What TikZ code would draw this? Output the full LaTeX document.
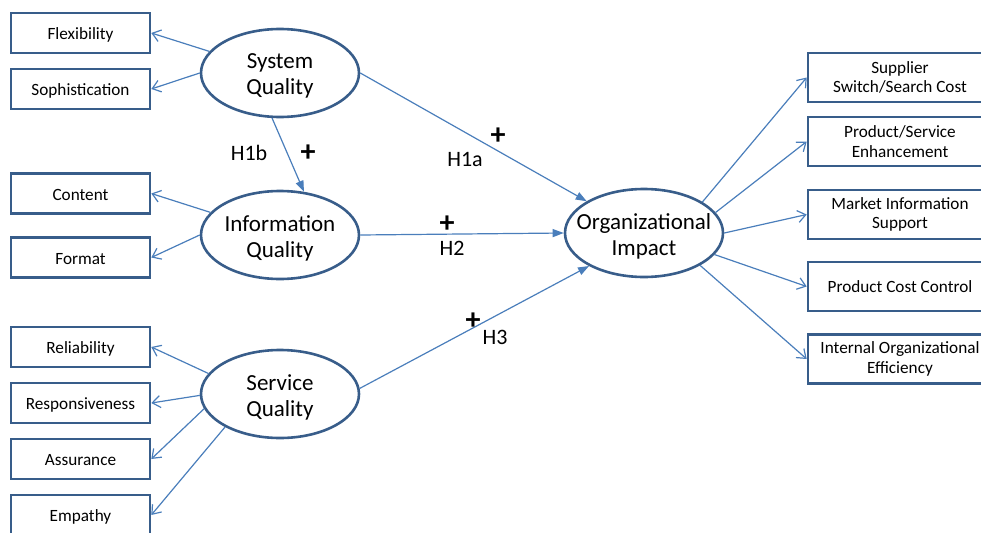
\documentclass[tikz,border=0pt]{standalone}
\usepackage{fontspec}
\setmainfont{Carlito}
\usetikzlibrary{shapes.geometric,arrows.meta}
\definecolor{bordc}{HTML}{385D8A}
\definecolor{linec}{HTML}{4A7EBB}
\tikzset{
  itembox/.style={draw=bordc,line width=2.6pt,rectangle,minimum width=139pt,minimum height=40pt,inner sep=0pt,font=\fontsize{17.2}{19.5}\selectfont,text height=13.5pt,text depth=0pt},
  rbox/.style={draw=bordc,line width=2.6pt,rectangle,minimum width=184pt,minimum height=49pt,inner sep=0pt,font=\fontsize{17.2}{19.5}\selectfont,align=center},
  construct/.style={draw=bordc,line width=2.6pt,ellipse,minimum width=158pt,minimum height=88pt,inner sep=0pt},
  ctext/.style={font=\fontsize{23}{26}\selectfont,align=center,inner sep=0pt},
  indic/.style={draw=linec,line width=1.2pt,-{Straight Barb[length=8pt,width=12pt,line width=1.2pt]}},
  hyp/.style={draw=linec,line width=1.2pt,-{Triangle[length=11pt,width=8pt]}},
  hlabel/.style={font=\fontsize{22}{22}\selectfont,inner sep=0pt},
  plus/.style={font=\fontsize{30}{30}\selectfont\bfseries,inner sep=0pt}
}
\begin{document}
\begin{tikzpicture}[x=1pt,y=-1pt]
\useasboundingbox (0,0) rectangle (981,532);
% constructs
\node[construct] (sq) at (280,73) {};
\node[construct] (iq) at (280,235) {};
\node[construct] (svq) at (280,394) {};
\node[construct] (oi) at (644,233) {};
\node[ctext] (sqt) at ([yshift=-3pt]sq.center) {System\\Quality};
\node[ctext] (iqt) at ([yshift=-3pt]iq.center) {Information\\Quality};
\node[ctext] (svqt) at ([yshift=-3pt]svq.center) {Service\\Quality};
\node[ctext] (oit) at ([yshift=-3pt]oi.center) {Organizational\\Impact};
% left boxes
\node[itembox] (flex) at (80.5,33) {Flexibility};
\node[itembox] (soph) at (80.5,89) {Sophistication};
\node[itembox] (cont) at (80.5,193.5) {Content};
\node[itembox] (form) at (80.5,257.5) {Format};
\node[itembox] (rel) at (80.5,347) {Reliability};
\node[itembox] (resp) at (80.5,403) {Responsiveness};
\node[itembox] (ass) at (80.5,459) {Assurance};
\node[itembox] (emp) at (80.5,515) {Empathy};
% right boxes
\node[rbox] (sup) at (900,77.5) {Supplier\\Switch/Search Cost};
\node[rbox] (pse) at (900,141.5) {Product/Service\\Enhancement};
\node[rbox] (mis) at (900,214.5) {Market Information\\Support};
\node[rbox] (pcc) at (900,286.5) {Product Cost Control};
\node[rbox] (ioe) at (900,359) {Internal Organizational\\Efficiency};
% indicator arrows
\draw[indic] (sq.163) -- (flex.east);
\draw[indic] (sq.180) -- (soph.east);
\draw[indic] (iq.162) -- (cont.east);
\draw[indic] (iq.180) -- (form.east);
\draw[indic] (svq.164) -- (rel.east);
\draw[indic] (svq.181) -- (resp.east);
\draw[indic] (svq.191) -- (ass.east);
\draw[indic] (svq.211) -- (emp.east);
\draw[indic] (oi.28) -- (sup.west);
\draw[indic] (oi.16) -- (pse.west);
\draw[indic] (oi.0) -- (mis.west);
\draw[indic] (oi.-17) -- (pcc.west);
\draw[indic] (oi.-30) -- (ioe.west);
% hypotheses
\draw[hyp] (sq.0) -- (oi.151);
\draw[hyp] (sq.260) -- (iq.61);
\draw[hyp] (iq.0) -- (oi.180);
\draw[hyp] (svq.4) -- (oi.211);
% labels
\node[hlabel] (h1a) at (465,160) {H1a};
\node[plus] (p1a) at (498,136) {+};
\node[hlabel] (h2) at (452,248) {H2};
\node[plus] (p2) at (447,224) {+};
\node[hlabel] (h3) at (495,337) {H3};
\node[plus] (p3) at (473,321) {+};
\node[hlabel] (h1b) at (249,153) {H1b};
\node[plus] (p1b) at (308,153) {+};
\end{tikzpicture}
\end{document}
